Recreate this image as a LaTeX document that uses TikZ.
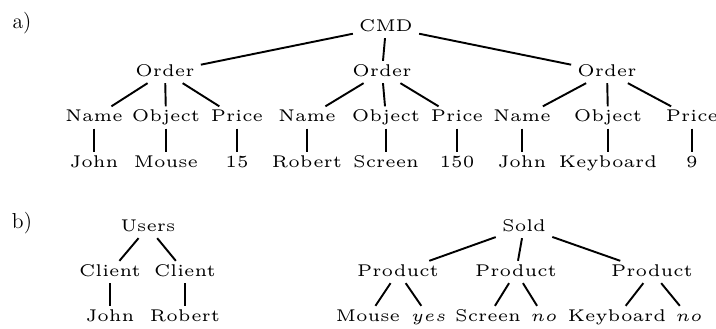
\documentclass[tikz,border=0pt]{standalone}
\usepackage{fontspec}
\setmainfont{Latin Modern Roman}
\newfontfamily\five{lmroman5-regular}[Extension=.otf]
\newcommand{\mitsmall}[1]{\scalebox{2}{\fontsize{5}{6}\selectfont$#1$}}
\begin{document}
\begin{tikzpicture}[x=0.6pt,y=-0.6pt,
  tn/.style={inner xsep=3.6pt, inner ysep=2pt, text height=7pt, text depth=2pt, font=\five\fontsize{10.2}{12}\selectfont},
  lab/.style={inner sep=0pt, font=\fontsize{13}{15}\selectfont},
  edge/.style={line width=1.15pt}]
\useasboundingbox (0,0) rectangle (716,329);
% labels
\node[lab] (la) at (22,23) {a)};
\node[lab] (lb) at (22,223) {b)};
% tree a
\node[tn] (cmd) at (386,27) {CMD};
\node[tn] (o1) at (165,72) {Order};
\node[tn] (o2) at (382,72) {Order};
\node[tn] (o3) at (607,72) {Order};
\node[tn] (n1) at (94,117.5) {Name};
\node[tn] (ob1) at (166,117.5) {Object};
\node[tn] (p1) at (237,117.5) {Price};
\node[tn] (n2) at (307,117.5) {Name};
\node[tn] (ob2) at (386,117.5) {Object};
\node[tn] (p2) at (457,117.5) {Price};
\node[tn] (n3) at (522,117.5) {Name};
\node[tn] (ob3) at (608,117.5) {Object};
\node[tn] (p3) at (692,117.5) {Price};
\node[tn] (v1) at (94,163) {John};
\node[tn] (v2) at (166,163) {Mouse};
\node[tn] (v3) at (237,163) {15};
\node[tn] (v4) at (307,163) {Robert};
\node[tn] (v5) at (386,163) {Screen};
\node[tn] (v6) at (457,163) {150};
\node[tn] (v7) at (522,163) {John};
\node[tn] (v8) at (608,163) {Keyboard};
\node[tn] (v9) at (692,163) {9};
\foreach \a/\b in {cmd/o1,cmd/o2,cmd/o3,o1/n1,o1/ob1,o1/p1,o2/n2,o2/ob2,o2/p2,o3/n3,o3/ob3,o3/p3,n1/v1,ob1/v2,p1/v3,n2/v4,ob2/v5,p2/v6,n3/v7,ob3/v8,p3/v9}
  \draw[edge] (\a) -- (\b);
% tree b left
\node[tn] (us) at (148,227) {Users};
\node[tn] (c1) at (110,272) {Client};
\node[tn] (c2) at (185,272) {Client};
\node[tn] (j) at (110,317) {John};
\node[tn] (r) at (185,317) {Robert};
\foreach \a/\b in {us/c1,us/c2,c1/j,c2/r}
  \draw[edge] (\a) -- (\b);
% tree b right
\node[tn] (sold) at (524,227) {Sold};
\node[tn] (pr1) at (398,272) {Product};
\node[tn] (pr2) at (516,272) {Product};
\node[tn] (pr3) at (652,272) {Product};
\node[tn] (m) at (368,317) {Mouse};
\node[tn] (y) at (429,317) {\mitsmall{yes}};
\node[tn] (s) at (488,317) {Screen};
\node[tn] (no1) at (544,317) {\mitsmall{no}};
\node[tn] (k) at (617,317) {Keyboard};
\node[tn] (no2) at (689,317) {\mitsmall{no}};
\foreach \a/\b in {sold/pr1,sold/pr2,sold/pr3,pr1/m,pr1/y,pr2/s,pr2/no1,pr3/k,pr3/no2}
  \draw[edge] (\a) -- (\b);
\end{tikzpicture}
\end{document}
